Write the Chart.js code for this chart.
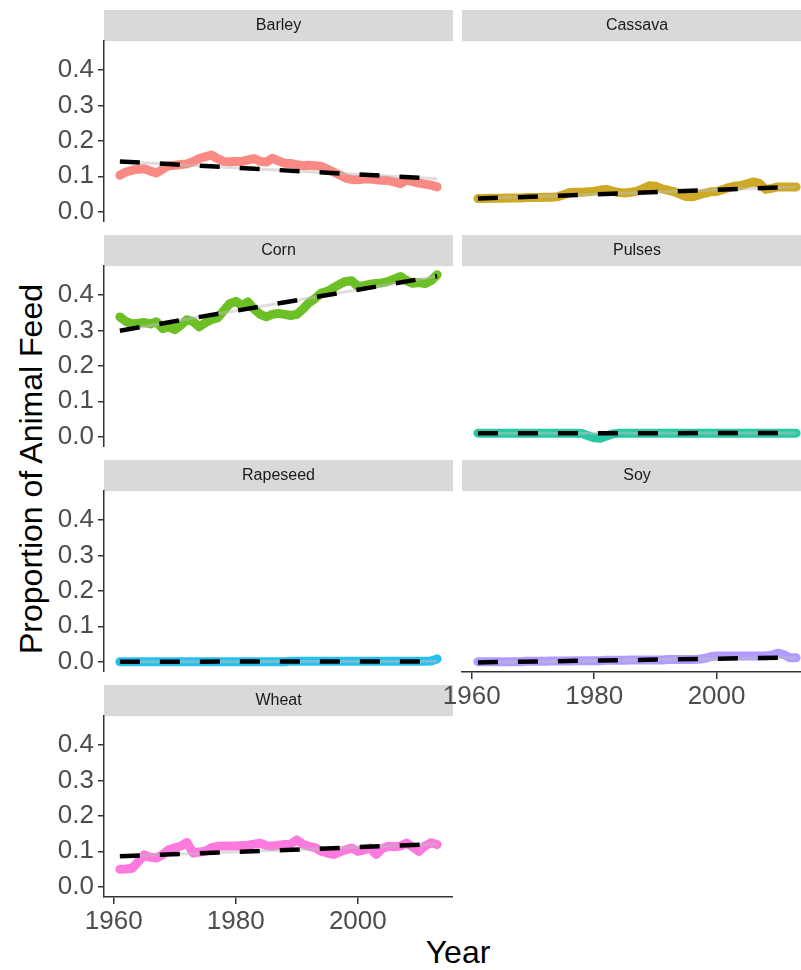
<!DOCTYPE html>
<html>
<head>
<meta charset="utf-8">
<script src="https://cdn.jsdelivr.net/npm/chart.js@4.4.1/dist/chart.umd.min.js"></script>
<style>
html, body { margin:0; padding:0; background:#fff; overflow:hidden; width:801px; height:970px; }
body { position:relative; font-family:"Liberation Sans", Arial, sans-serif; }
canvas { position:absolute; }
.ytitle { position:absolute; left:-219px; top:453px; width:500px; height:32px; line-height:32px; text-align:center; font-size:32px; color:#000; transform:rotate(-90deg); }
.xtitle { position:absolute; left:358px; top:936px; width:200px; height:32px; line-height:32px; text-align:center; font-size:32px; color:#000; }
</style>
</head>
<body>
<div class="ytitle">Proportion of Animal Feed</div>
<div class="xtitle">Year</div>
<script>
const years = [1961,1962,1963,1964,1965,1966,1967,1968,1969,1970,
  1971,1972,1973,1974,1975,1976,1977,1978,1979,1980,
  1981,1982,1983,1984,1985,1986,1987,1988,1989,1990,
  1991,1992,1993,1994,1995,1996,1997,1998,1999,2000,
  2001,2002,2003,2004,2005,2006,2007,2008,2009,2010,
  2011,2012,2013];

const barley = [0.103,0.112,0.117,0.12,0.121,0.115,0.109,0.12,0.13,0.131,
  0.133,0.135,0.141,0.15,0.155,0.16,0.15,0.142,0.141,0.142,
  0.142,0.146,0.15,0.142,0.14,0.151,0.143,0.137,0.136,0.133,
  0.13,0.131,0.13,0.128,0.12,0.112,0.104,0.095,0.091,0.09,
  0.092,0.093,0.09,0.089,0.088,0.084,0.079,0.089,0.085,0.081,
  0.078,0.075,0.07];
const cassava = [0.037,0.037,0.038,0.038,0.038,0.039,0.039,0.039,0.04,0.04,
  0.04,0.041,0.041,0.042,0.048,0.054,0.055,0.055,0.056,0.058,
  0.061,0.063,0.058,0.054,0.053,0.055,0.058,0.065,0.073,0.072,
  0.065,0.061,0.057,0.05,0.043,0.042,0.047,0.052,0.056,0.057,
  0.062,0.068,0.072,0.074,0.079,0.084,0.08,0.063,0.066,0.07,
  0.07,0.07,0.07];
const corn = [0.338,0.325,0.318,0.32,0.322,0.318,0.324,0.305,0.31,0.302,
  0.315,0.33,0.325,0.31,0.322,0.33,0.335,0.355,0.375,0.382,
  0.37,0.38,0.36,0.345,0.338,0.345,0.348,0.345,0.342,0.345,
  0.36,0.378,0.39,0.405,0.41,0.42,0.43,0.438,0.44,0.424,
  0.426,0.43,0.432,0.434,0.438,0.445,0.452,0.44,0.433,0.435,
  0.432,0.44,0.457];
const pulses = [0.01,0.01,0.01,0.01,0.01,0.01,0.01,0.01,0.01,0.01,
  0.01,0.01,0.01,0.01,0.01,0.01,0.01,0.009,0.003,-0.003,
  -0.004,0.002,0.008,0.01,0.01,0.01,0.01,0.01,0.01,0.01,
  0.01,0.01,0.01,0.01,0.01,0.01,0.01,0.01,0.01,0.01,
  0.01,0.01,0.01,0.01,0.01,0.01,0.01,0.01,0.01,0.01,
  0.01,0.01,0.01];
const rapeseed = [0,0,0,0,0,0,0,0,0,0,
  0,0,0,0,0,0,0,0,0,0,
  0,0,0,0,0,0,0,0,0.001,0.001,
  0.001,0.001,0.001,0.001,0.001,0.001,0.001,0.001,0.001,0.001,
  0.001,0.001,0.001,0.001,0.001,0.001,0.001,0.001,0.001,0.001,
  0.001,0.002,0.008];
const soy = [0,0,0,0,0,0,0,0,0.001,0.001,
  0.001,0.001,0.002,0.002,0.002,0.002,0.003,0.003,0.003,0.003,
  0.003,0.004,0.004,0.004,0.004,0.005,0.005,0.005,0.005,0.005,
  0.005,0.006,0.006,0.006,0.006,0.006,0.007,0.009,0.014,0.016,
  0.016,0.016,0.016,0.016,0.016,0.016,0.016,0.016,0.018,0.024,
  0.02,0.011,0.011];
const wheat = [0.049,0.05,0.052,0.07,0.09,0.083,0.081,0.09,0.104,0.11,
  0.115,0.125,0.095,0.098,0.1,0.11,0.114,0.115,0.115,0.115,
  0.116,0.117,0.12,0.123,0.116,0.114,0.117,0.119,0.12,0.132,
  0.12,0.114,0.11,0.1,0.095,0.091,0.098,0.104,0.109,0.1,
  0.104,0.109,0.091,0.108,0.114,0.113,0.115,0.123,0.112,0.1,
  0.115,0.124,0.119];

const crops = ['Barley','Cassava','Corn','Pulses','Rapeseed','Soy','Wheat'];
const cropValues = [barley, cassava, corn, pulses, rapeseed, soy, wheat];
const cropColors = ['#F8766D','#C49A00','#53B400','#00C094','#00B6EB','#A58AFF','#FB61D7'];
// linear trend (dashed) read at first and last year
const trendStart = [0.142, 0.037, 0.299, 0.0095, 0.0, -0.002, 0.086];
const trendEnd = [0.093, 0.07, 0.453, 0.0105, 0.001, 0.012, 0.12];

const xTickValues = [1960, 1980, 2000];
const yTickValues = [0, 0.1, 0.2, 0.3, 0.4];

const font = '"Liberation Sans", Arial, sans-serif';
Chart.defaults.font.family = font;

const stripPlugin = {
  id: 'strip',
  beforeDraw(chart) {
    const t = chart.titleBlock;
    if (!t) return;
    const ctx = chart.ctx;
    ctx.save();
    ctx.fillStyle = '#d9d9d9';
    ctx.fillRect(chart.chartArea.left, t.top, chart.chartArea.right - chart.chartArea.left, t.height);
    ctx.restore();
  }
};

crops.forEach((name, i) => {
  const col = i % 2, row = Math.floor(i / 2);
  const showX = i >= crops.length - 2;
  const showY = col === 0;
  const padLeft = col === 0 ? 0 : 40;   // room for the first x label in the right column
  const cv = document.createElement('canvas');
  cv.width = col === 0 ? 453 : 350 + padLeft;
  cv.height = 212 + (showX ? 50 : 0);
  cv.style.left = (col === 0 ? 0 : 462 - padLeft) + 'px';
  cv.style.top = (10 + row * 225) + 'px';
  cv.style.zIndex = col === 0 ? 1 : 2;
  document.body.appendChild(cv);

  const trend = [{x: years[0], y: trendStart[i]}, {x: years[years.length - 1], y: trendEnd[i]}];

  new Chart(cv, {
    type: 'line',
    data: {
      datasets: [{
        data: trend,
        borderColor: '#000',
        borderWidth: 4.5,
        borderDash: [20, 20],
        pointRadius: 0,
        order: 1
      }, {
        data: trend,
        borderColor: 'rgba(190,190,190,0.5)',
        borderWidth: 3,
        pointRadius: 0,
        order: 2
      }, {
        data: cropValues[i].map((v, k) => ({x: years[k], y: v})),
        borderColor: cropColors[i] + 'D9',
        borderWidth: 9,
        borderCapStyle: 'round',
        borderJoinStyle: 'round',
        pointRadius: 0,
        order: 3
      }]
    },
    options: {
      responsive: false,
      animation: false,
      events: [],
      layout: { padding: { left: padLeft, right: 0, top: 0, bottom: 0 } },
      plugins: {
        legend: { display: false },
        tooltip: { enabled: false },
        title: {
          display: true,
          text: name,
          fullSize: false,
          color: '#1a1a1a',
          font: { size: 16, weight: 'normal', lineHeight: 1.2 },
          padding: { top: 6, bottom: 6 }
        }
      },
      scales: {
        x: {
          type: 'linear',
          min: 1958.4,
          max: 2015.6,
          display: showX,
          afterBuildTicks: s => { s.ticks = xTickValues.map(v => ({value: v})); },
          afterFit: s => {
            if (showX) s.height = 50;
            s.paddingLeft = 0; s.paddingRight = 0;
          },
          border: { display: true, color: '#333', width: 1.5 },
          grid: { display: true, drawOnChartArea: false, drawTicks: true, tickLength: 7, color: '#333', lineWidth: 1.5 },
          ticks: { color: '#4d4d4d', font: { size: 26 }, padding: 2, maxRotation: 0, autoSkip: false, callback: v => String(v) }
        },
        y: {
          min: -0.029,
          max: 0.481,
          display: showY,
          afterBuildTicks: s => { s.ticks = yTickValues.map(v => ({value: v})); },
          afterFit: s => {
            if (showY) s.width = 104;
            s.paddingTop = 0; s.paddingBottom = 0;
          },
          border: { display: true, color: '#333', width: 1.5 },
          grid: { display: true, drawOnChartArea: false, drawTicks: true, tickLength: 6, color: '#333', lineWidth: 1.5 },
          ticks: { color: '#4d4d4d', font: { size: 26 }, padding: 4, autoSkip: false, callback: v => v.toFixed(1) }
        }
      }
    },
    plugins: [stripPlugin]
  });
});
</script>
</body>
</html>
